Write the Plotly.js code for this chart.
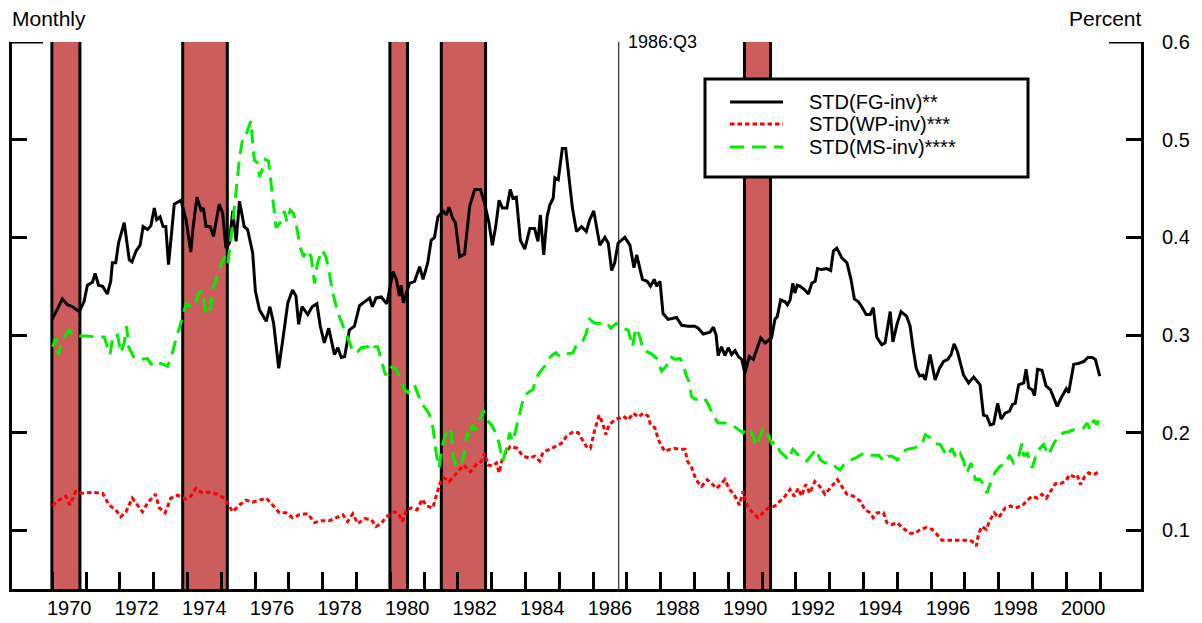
<!DOCTYPE html>
<html><head><meta charset="utf-8">
<script src="https://cdn.plot.ly/plotly-3.0.1.min.js"></script>
<style>html,body{margin:0;padding:0;background:#fff}#chart{width:1202px;height:623px}</style>
</head><body><div id="chart"></div>
<script>
// ---------- data ----------
const seriesNames = ['STD(FG-inv)**', 'STD(WP-inv)***', 'STD(MS-inv)****'];

// [decimal year, percent]
const fgInv = [[1970.00,0.316],[1970.30,0.337],[1970.45,0.331],[1970.60,0.329],[1970.80,0.324],[1970.94,0.334],[1971.04,0.351],[1971.19,0.354],[1971.27,0.363],[1971.37,0.351],[1971.49,0.350],[1971.63,0.342],[1971.73,0.355],[1971.78,0.374],[1971.88,0.374],[1971.96,0.394],[1972.13,0.415],[1972.28,0.377],[1972.36,0.375],[1972.48,0.386],[1972.60,0.392],[1972.69,0.411],[1972.82,0.408],[1972.92,0.412],[1973.02,0.430],[1973.09,0.418],[1973.19,0.421],[1973.28,0.411],[1973.36,0.411],[1973.44,0.372],[1973.54,0.408],[1973.61,0.434],[1973.81,0.438],[1973.96,0.418],[1974.10,0.385],[1974.17,0.411],[1974.28,0.441],[1974.40,0.428],[1974.47,0.430],[1974.55,0.411],[1974.67,0.411],[1974.77,0.401],[1974.94,0.434],[1975.04,0.425],[1975.14,0.389],[1975.24,0.394],[1975.34,0.427],[1975.44,0.396],[1975.54,0.437],[1975.68,0.411],[1975.78,0.408],[1975.93,0.384],[1976.01,0.345],[1976.13,0.326],[1976.33,0.314],[1976.44,0.329],[1976.55,0.312],[1976.70,0.266],[1976.82,0.295],[1976.97,0.333],[1977.11,0.346],[1977.21,0.340],[1977.29,0.311],[1977.39,0.329],[1977.56,0.321],[1977.69,0.329],[1977.83,0.332],[1977.93,0.309],[1978.05,0.292],[1978.18,0.307],[1978.35,0.280],[1978.45,0.287],[1978.55,0.277],[1978.65,0.278],[1978.79,0.305],[1978.94,0.309],[1979.09,0.330],[1979.24,0.334],[1979.39,0.338],[1979.47,0.329],[1979.58,0.338],[1979.73,0.339],[1979.90,0.332],[1980.08,0.365],[1980.18,0.357],[1980.27,0.340],[1980.32,0.351],[1980.39,0.333],[1980.57,0.353],[1980.72,0.355],[1980.87,0.370],[1980.97,0.357],[1981.11,0.374],[1981.21,0.397],[1981.31,0.400],[1981.41,0.421],[1981.56,0.427],[1981.66,0.423],[1981.74,0.431],[1981.84,0.420],[1981.93,0.415],[1982.05,0.380],[1982.20,0.383],[1982.35,0.432],[1982.50,0.449],[1982.67,0.449],[1982.79,0.435],[1982.92,0.415],[1983.02,0.392],[1983.12,0.411],[1983.22,0.438],[1983.32,0.430],[1983.45,0.430],[1983.55,0.449],[1983.63,0.440],[1983.73,0.441],[1983.85,0.397],[1983.98,0.388],[1984.13,0.409],[1984.27,0.409],[1984.37,0.396],[1984.44,0.423],[1984.54,0.382],[1984.64,0.421],[1984.72,0.433],[1984.82,0.440],[1984.87,0.461],[1984.97,0.459],[1985.09,0.491],[1985.19,0.491],[1985.29,0.457],[1985.39,0.430],[1985.51,0.406],[1985.66,0.411],[1985.80,0.406],[1985.90,0.418],[1986.02,0.427],[1986.20,0.392],[1986.35,0.400],[1986.45,0.394],[1986.55,0.366],[1986.64,0.374],[1986.74,0.394],[1986.94,0.400],[1987.09,0.392],[1987.21,0.369],[1987.29,0.382],[1987.46,0.357],[1987.60,0.355],[1987.70,0.350],[1987.81,0.357],[1987.88,0.350],[1987.98,0.355],[1988.07,0.322],[1988.22,0.316],[1988.47,0.318],[1988.62,0.310],[1988.81,0.309],[1989.01,0.309],[1989.11,0.307],[1989.26,0.301],[1989.46,0.303],[1989.56,0.308],[1989.64,0.300],[1989.70,0.279],[1989.80,0.288],[1989.90,0.279],[1990.00,0.287],[1990.10,0.280],[1990.20,0.284],[1990.30,0.278],[1990.40,0.275],[1990.49,0.261],[1990.62,0.278],[1990.74,0.275],[1990.84,0.285],[1990.96,0.297],[1991.09,0.292],[1991.28,0.297],[1991.38,0.316],[1991.45,0.319],[1991.55,0.336],[1991.68,0.334],[1991.75,0.331],[1991.83,0.336],[1991.91,0.353],[1991.97,0.343],[1992.04,0.351],[1992.12,0.350],[1992.27,0.346],[1992.37,0.342],[1992.47,0.353],[1992.57,0.355],[1992.64,0.368],[1992.76,0.367],[1992.91,0.368],[1993.03,0.366],[1993.11,0.386],[1993.21,0.389],[1993.36,0.379],[1993.51,0.374],[1993.63,0.357],[1993.73,0.337],[1993.85,0.334],[1993.95,0.329],[1994.08,0.321],[1994.20,0.321],[1994.29,0.328],[1994.39,0.298],[1994.54,0.290],[1994.64,0.292],[1994.79,0.324],[1994.87,0.293],[1994.99,0.311],[1995.11,0.324],[1995.28,0.319],[1995.38,0.309],[1995.46,0.288],[1995.56,0.266],[1995.66,0.258],[1995.76,0.259],[1995.83,0.254],[1995.97,0.280],[1996.12,0.254],[1996.25,0.266],[1996.37,0.273],[1996.49,0.275],[1996.59,0.280],[1996.68,0.291],[1996.78,0.283],[1996.96,0.259],[1997.11,0.251],[1997.26,0.257],[1997.45,0.249],[1997.55,0.218],[1997.65,0.217],[1997.75,0.208],[1997.85,0.209],[1997.97,0.230],[1998.07,0.214],[1998.19,0.220],[1998.32,0.222],[1998.41,0.229],[1998.49,0.230],[1998.59,0.249],[1998.74,0.251],[1998.81,0.265],[1998.89,0.246],[1998.99,0.244],[1999.06,0.238],[1999.15,0.265],[1999.28,0.264],[1999.40,0.248],[1999.53,0.244],[1999.63,0.236],[1999.73,0.227],[1999.87,0.237],[2000.00,0.245],[2000.07,0.241],[2000.14,0.253],[2000.22,0.270],[2000.37,0.271],[2000.52,0.273],[2000.64,0.277],[2000.77,0.277],[2000.86,0.275],[2000.99,0.258]];

const wpInv = [[1970.01,0.125],[1970.20,0.131],[1970.40,0.135],[1970.52,0.126],[1970.70,0.140],[1970.89,0.138],[1971.19,0.139],[1971.49,0.138],[1971.68,0.126],[1971.88,0.121],[1972.03,0.114],[1972.18,0.119],[1972.37,0.133],[1972.52,0.126],[1972.67,0.119],[1972.82,0.128],[1973.05,0.137],[1973.17,0.123],[1973.34,0.118],[1973.51,0.133],[1973.71,0.136],[1973.96,0.132],[1974.10,0.135],[1974.25,0.143],[1974.40,0.139],[1974.65,0.139],[1974.89,0.137],[1975.09,0.133],[1975.34,0.119],[1975.54,0.126],[1975.73,0.131],[1975.93,0.129],[1976.13,0.131],[1976.33,0.133],[1976.52,0.126],[1976.72,0.118],[1976.92,0.118],[1977.11,0.113],[1977.31,0.116],[1977.56,0.117],[1977.76,0.108],[1977.96,0.110],[1978.20,0.110],[1978.40,0.113],[1978.60,0.116],[1978.74,0.109],[1978.89,0.117],[1979.04,0.107],[1979.24,0.112],[1979.44,0.111],[1979.58,0.104],[1979.73,0.107],[1979.88,0.114],[1979.98,0.116],[1980.13,0.119],[1980.23,0.118],[1980.36,0.109],[1980.47,0.121],[1980.62,0.123],[1980.79,0.121],[1980.95,0.132],[1981.07,0.125],[1981.26,0.123],[1981.38,0.138],[1981.48,0.149],[1981.58,0.154],[1981.74,0.150],[1981.85,0.154],[1982.00,0.160],[1982.17,0.167],[1982.37,0.160],[1982.53,0.167],[1982.70,0.171],[1982.79,0.179],[1982.89,0.167],[1983.04,0.166],[1983.14,0.169],[1983.22,0.159],[1983.32,0.174],[1983.45,0.181],[1983.55,0.186],[1983.75,0.184],[1983.93,0.176],[1984.13,0.174],[1984.27,0.176],[1984.42,0.171],[1984.52,0.180],[1984.72,0.183],[1984.91,0.186],[1985.06,0.189],[1985.21,0.196],[1985.41,0.201],[1985.56,0.200],[1985.69,0.193],[1985.80,0.186],[1985.92,0.184],[1986.05,0.203],[1986.18,0.218],[1986.28,0.210],[1986.38,0.198],[1986.47,0.208],[1986.64,0.213],[1986.89,0.217],[1987.04,0.213],[1987.19,0.220],[1987.34,0.216],[1987.48,0.220],[1987.63,0.217],[1987.70,0.208],[1987.83,0.205],[1987.93,0.193],[1988.03,0.186],[1988.12,0.181],[1988.27,0.183],[1988.39,0.184],[1988.57,0.183],[1988.72,0.183],[1988.79,0.171],[1988.92,0.164],[1989.04,0.152],[1989.21,0.145],[1989.38,0.152],[1989.51,0.148],[1989.66,0.143],[1989.80,0.148],[1989.90,0.152],[1990.03,0.142],[1990.17,0.137],[1990.33,0.126],[1990.44,0.140],[1990.56,0.125],[1990.72,0.118],[1990.88,0.113],[1991.04,0.118],[1991.18,0.123],[1991.38,0.125],[1991.53,0.130],[1991.68,0.135],[1991.83,0.142],[1991.95,0.135],[1992.07,0.143],[1992.17,0.135],[1992.29,0.147],[1992.41,0.138],[1992.56,0.150],[1992.71,0.145],[1992.86,0.137],[1993.01,0.143],[1993.23,0.152],[1993.36,0.145],[1993.51,0.137],[1993.70,0.135],[1993.90,0.130],[1994.05,0.121],[1994.20,0.118],[1994.29,0.113],[1994.41,0.118],[1994.59,0.118],[1994.69,0.108],[1994.84,0.106],[1994.99,0.108],[1995.18,0.102],[1995.38,0.097],[1995.53,0.097],[1995.68,0.101],[1995.86,0.103],[1996.03,0.101],[1996.17,0.096],[1996.32,0.090],[1996.52,0.090],[1996.77,0.090],[1997.01,0.090],[1997.21,0.089],[1997.34,0.084],[1997.40,0.096],[1997.50,0.104],[1997.63,0.101],[1997.75,0.111],[1997.87,0.118],[1998.00,0.113],[1998.19,0.123],[1998.34,0.125],[1998.49,0.123],[1998.69,0.125],[1998.85,0.131],[1998.99,0.135],[1999.14,0.133],[1999.28,0.137],[1999.41,0.133],[1999.53,0.140],[1999.68,0.148],[1999.83,0.148],[1999.97,0.150],[2000.10,0.157],[2000.22,0.155],[2000.32,0.157],[2000.42,0.147],[2000.54,0.155],[2000.66,0.159],[2000.81,0.157],[2000.96,0.160]];

const msInv = [[1970.01,0.288],[1970.11,0.297],[1970.18,0.280],[1970.30,0.295],[1970.50,0.305],[1970.60,0.300],[1970.80,0.299],[1971.04,0.299],[1971.29,0.298],[1971.54,0.298],[1971.63,0.288],[1971.71,0.280],[1971.80,0.300],[1971.93,0.300],[1972.03,0.282],[1972.13,0.292],[1972.20,0.309],[1972.26,0.288],[1972.43,0.276],[1972.57,0.275],[1972.82,0.276],[1972.97,0.268],[1973.22,0.271],[1973.41,0.268],[1973.56,0.282],[1973.68,0.299],[1973.76,0.307],[1973.86,0.319],[1973.96,0.332],[1974.15,0.328],[1974.25,0.334],[1974.35,0.344],[1974.45,0.345],[1974.55,0.322],[1974.67,0.322],[1974.74,0.346],[1974.94,0.367],[1975.09,0.380],[1975.19,0.372],[1975.34,0.415],[1975.44,0.445],[1975.54,0.481],[1975.62,0.498],[1975.71,0.500],[1975.78,0.510],[1975.88,0.519],[1975.93,0.496],[1975.98,0.479],[1976.08,0.476],[1976.13,0.462],[1976.21,0.469],[1976.31,0.480],[1976.40,0.478],[1976.47,0.456],[1976.57,0.428],[1976.62,0.410],[1976.77,0.416],[1976.87,0.427],[1976.94,0.416],[1977.04,0.428],[1977.13,0.425],[1977.21,0.415],[1977.33,0.391],[1977.43,0.380],[1977.56,0.387],[1977.66,0.380],[1977.76,0.353],[1977.85,0.374],[1977.98,0.387],[1978.10,0.380],[1978.20,0.363],[1978.30,0.343],[1978.45,0.323],[1978.65,0.305],[1978.77,0.295],[1978.91,0.282],[1979.04,0.283],[1979.14,0.287],[1979.34,0.288],[1979.43,0.292],[1979.53,0.288],[1979.63,0.288],[1979.73,0.275],[1979.86,0.259],[1979.98,0.268],[1980.18,0.265],[1980.30,0.254],[1980.42,0.244],[1980.52,0.241],[1980.62,0.247],[1980.72,0.249],[1980.82,0.239],[1980.99,0.227],[1981.14,0.220],[1981.26,0.206],[1981.36,0.179],[1981.44,0.164],[1981.54,0.186],[1981.61,0.195],[1981.71,0.205],[1981.81,0.200],[1981.85,0.177],[1981.95,0.166],[1982.10,0.166],[1982.20,0.181],[1982.27,0.200],[1982.35,0.195],[1982.43,0.208],[1982.53,0.203],[1982.63,0.213],[1982.76,0.223],[1982.86,0.213],[1982.99,0.208],[1983.12,0.200],[1983.22,0.189],[1983.33,0.171],[1983.43,0.183],[1983.53,0.200],[1983.63,0.191],[1983.73,0.205],[1983.83,0.222],[1983.95,0.237],[1984.11,0.242],[1984.22,0.244],[1984.32,0.256],[1984.47,0.264],[1984.62,0.270],[1984.74,0.278],[1984.90,0.282],[1985.01,0.278],[1985.16,0.280],[1985.41,0.282],[1985.51,0.290],[1985.70,0.294],[1985.80,0.302],[1985.90,0.316],[1986.05,0.312],[1986.25,0.312],[1986.40,0.313],[1986.52,0.307],[1986.69,0.312],[1986.89,0.307],[1987.04,0.305],[1987.17,0.288],[1987.26,0.307],[1987.38,0.299],[1987.48,0.285],[1987.76,0.280],[1987.88,0.276],[1988.03,0.263],[1988.16,0.268],[1988.29,0.278],[1988.42,0.275],[1988.57,0.276],[1988.67,0.271],[1988.75,0.259],[1988.84,0.252],[1988.91,0.237],[1989.04,0.234],[1989.28,0.236],[1989.41,0.229],[1989.56,0.217],[1989.70,0.210],[1989.90,0.210],[1990.10,0.208],[1990.30,0.203],[1990.44,0.200],[1990.59,0.205],[1990.70,0.200],[1990.82,0.186],[1990.94,0.196],[1991.04,0.205],[1991.16,0.200],[1991.28,0.189],[1991.38,0.191],[1991.53,0.181],[1991.68,0.176],[1991.78,0.172],[1991.91,0.183],[1992.03,0.179],[1992.17,0.174],[1992.32,0.171],[1992.52,0.179],[1992.60,0.183],[1992.72,0.172],[1992.87,0.169],[1993.06,0.169],[1993.21,0.164],[1993.31,0.162],[1993.41,0.167],[1993.61,0.172],[1993.76,0.174],[1994.00,0.179],[1994.20,0.177],[1994.45,0.177],[1994.60,0.171],[1994.72,0.176],[1994.85,0.176],[1995.00,0.172],[1995.19,0.181],[1995.29,0.183],[1995.46,0.184],[1995.63,0.186],[1995.73,0.188],[1995.83,0.198],[1995.97,0.195],[1996.12,0.189],[1996.27,0.188],[1996.47,0.176],[1996.62,0.184],[1996.74,0.174],[1996.86,0.179],[1996.96,0.171],[1997.06,0.159],[1997.18,0.169],[1997.31,0.152],[1997.45,0.152],[1997.53,0.148],[1997.65,0.138],[1997.75,0.148],[1997.90,0.160],[1998.05,0.166],[1998.19,0.167],[1998.32,0.177],[1998.44,0.169],[1998.59,0.176],[1998.69,0.189],[1998.74,0.176],[1998.85,0.179],[1998.99,0.164],[1999.14,0.181],[1999.33,0.188],[1999.47,0.177],[1999.63,0.189],[1999.77,0.196],[1999.92,0.200],[2000.07,0.201],[2000.22,0.203],[2000.37,0.203],[2000.52,0.205],[2000.61,0.210],[2000.71,0.203],[2000.81,0.213],[2000.91,0.208],[2000.96,0.215]];

// recession periods [start, end] in decimal years
const recessions = [[1969.99,1970.82],[1973.86,1975.18],[1979.99,1980.51],[1981.51,1982.82],[1990.48,1991.25]];
const markerDate = 1986.76;
const markerLabel = '1986:Q3';
const xTickLabels = ['1970','1972','1974','1976','1978','1980','1982','1984','1986','1988','1990','1992','1994','1996','1998','2000'];
const yTickLabels = ['0.1','0.2','0.3','0.4','0.5','0.6'];
const leftTitle = 'Monthly';
const rightTitle = 'Percent';

// ---------- styling ----------
const FONT = 'Liberation Sans, Arial, Helvetica, sans-serif';
const colors = ['#000000', '#ff0000', '#00ee00'];
const dashes = ['solid', '4.5px,3px', '14px,8px'];
const W = 1202, H = 623;
const M = {l: 12, r: 61, t: 42, b: 34};
const PW = W - M.l - M.r, PH = H - M.t - M.b;
const px = x => (x - M.l) / PW;        // pixel -> paper x
const py = y => (H - M.b - y) / PH;    // pixel -> paper y

const allSeries = [fgInv, wpInv, msInv];
const traces = allSeries.map((s, i) => ({
  type: 'scatter', mode: 'lines', name: seriesNames[i],
  x: s.map(p => p[0]), y: s.map(p => p[1]),
  line: {color: colors[i], width: 3, dash: dashes[i]},
  showlegend: false, hoverinfo: 'skip'
}));

const shapes = [];
recessions.forEach(([a, b]) => {
  shapes.push({type: 'rect', xref: 'x', yref: 'paper', x0: a, x1: b, y0: 0, y1: 1,
    fillcolor: '#cd5c5c', line: {width: 0}, layer: 'below'});
  [a, b].forEach(v => shapes.push({type: 'line', xref: 'x', yref: 'paper', x0: v, x1: v, y0: 0, y1: 1,
    line: {color: '#000', width: 3}, layer: 'below'}));
});
shapes.push({type: 'line', xref: 'x', yref: 'paper', x0: markerDate, x1: markerDate, y0: 0, y1: 1,
  line: {color: '#000', width: 1}, layer: 'below'});
// longer top ticks at 0.6
const topVal = +yTickLabels[yTickLabels.length - 1];
shapes.push({type: 'line', xref: 'paper', yref: 'y', x0: 0, x1: 31 / PW, y0: topVal, y1: topVal, line: {color: '#000', width: 3}});
shapes.push({type: 'line', xref: 'paper', yref: 'y', x0: 1 - 32 / PW, x1: 1, y0: topVal, y1: topVal, line: {color: '#000', width: 3}});
// legend box
shapes.push({type: 'rect', xref: 'paper', yref: 'paper', x0: px(705), x1: px(1028), y0: py(177), y1: py(79),
  fillcolor: '#fff', line: {color: '#000', width: 3}, layer: 'above'});
const legendRows = [102, 124, 147];
const annotations = [];
seriesNames.forEach((n, i) => {
  shapes.push({type: 'line', xref: 'paper', yref: 'paper', x0: px(730), x1: px(783), y0: py(legendRows[i]), y1: py(legendRows[i]),
    line: {color: colors[i], width: 3, dash: dashes[i]}, layer: 'above'});
  annotations.push({xref: 'paper', yref: 'paper', x: px(807), y: py(legendRows[i]), xanchor: 'left', yanchor: 'middle',
    text: n, showarrow: false, font: {family: FONT, size: 20, color: '#000'}});
});
annotations.push({xref: 'paper', yref: 'paper', x: px(10), y: py(19), xanchor: 'left', yanchor: 'middle', text: leftTitle,
  showarrow: false, font: {family: FONT, size: 21, color: '#000'}});
annotations.push({xref: 'paper', yref: 'paper', x: px(1144), y: py(19), xanchor: 'right', yanchor: 'middle', text: rightTitle,
  showarrow: false, font: {family: FONT, size: 21, color: '#000'}});
annotations.push({xref: 'x', yref: 'paper', x: markerDate, xshift: 7, y: py(42), xanchor: 'left', yanchor: 'middle', text: markerLabel,
  showarrow: false, font: {family: FONT, size: 18, color: '#000'}});

const yearTicks = [];
for (let y = +xTickLabels[0]; y <= +xTickLabels[xTickLabels.length - 1] + 1; y++) yearTicks.push(y);

const layout = {
  width: W, height: H, margin: M,
  paper_bgcolor: '#fff', plot_bgcolor: '#fff',
  font: {family: FONT, color: '#000'},
  showlegend: false,
  xaxis: {
    range: [1968.81, 2002.21], showgrid: false, zeroline: false,
    showline: true, linecolor: '#000', linewidth: 3, mirror: false,
    tickmode: 'array', tickvals: xTickLabels.map(s => +s + 0.5), ticktext: xTickLabels,
    ticks: '', tickfont: {family: FONT, size: 20, color: '#000'}, ticklabelstandoff: -1,
    minor: {tickmode: 'array', tickvals: yearTicks, ticks: 'inside', ticklen: 17, tickwidth: 3, tickcolor: '#000', showgrid: false}
  },
  yaxis: {
    range: [0.04, 0.6], side: 'right', showgrid: false, zeroline: false,
    showline: true, linecolor: '#000', linewidth: 3, mirror: 'ticks',
    tickmode: 'array', tickvals: yTickLabels.map(Number), ticktext: yTickLabels,
    ticks: 'inside', ticklen: 15, tickwidth: 3, tickcolor: '#000',
    tickfont: {family: FONT, size: 20, color: '#000'}, ticklabelstandoff: 14
  },
  shapes: shapes, annotations: annotations
};
Plotly.newPlot('chart', traces, layout, {staticPlot: true, displayModeBar: false});
</script>
</body></html>
